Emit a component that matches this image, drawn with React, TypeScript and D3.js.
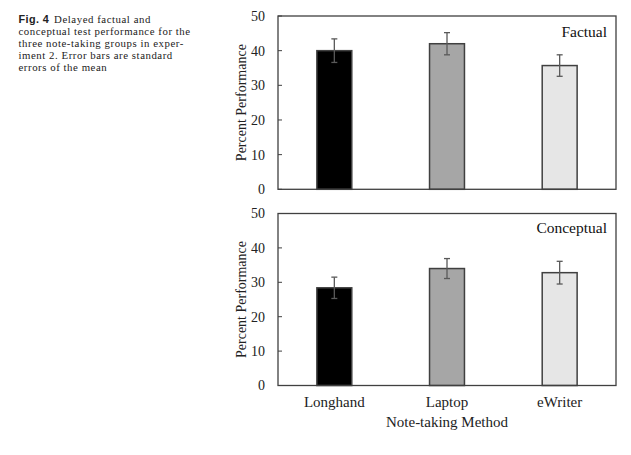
import React from "react";
import * as d3 from "d3";

const categories = ["Longhand", "Laptop", "eWriter"];
const factualMeans = [40.0, 42.0, 35.7];
const factualSE = [3.4, 3.2, 3.1];
const conceptualMeans = [28.4, 34.0, 32.8];
const conceptualSE = [3.1, 2.9, 3.3];
const barColors = ["#000000", "#a6a6a6", "#e6e6e6"];
const yTicks = [0, 10, 20, 30, 40, 50];
const captionLines = [
  "Delayed factual and",
  "conceptual test performance for the",
  "three note-taking groups in exper-",
  "iment 2. Error bars are standard",
  "errors of the mean",
];

const SERIF = "'Liberation Serif', 'Times New Roman', serif";
const LEFT = 278;
const RIGHT = 616;

const x = d3
  .scaleBand<string>()
  .domain(categories)
  .range([LEFT, RIGHT])
  .paddingInner(0.69)
  .paddingOuter(0.345);

function Panel({
  top,
  bottom,
  means,
  se,
  title,
  titleY,
}: {
  top: number;
  bottom: number;
  means: number[];
  se: number[];
  title: string;
  titleY: number;
}) {
  const y = d3.scaleLinear().domain([0, 50]).range([bottom, top]);
  const bw = x.bandwidth();
  return (
    <g>
      {categories.map((c, i) => {
        const x0 = x(c)!;
        const cx = x0 + bw / 2;
        const v = means[i];
        const hi = y(v + se[i]);
        const lo = y(v - se[i]);
        return (
          <g key={c}>
            <rect
              x={x0}
              y={y(v)}
              width={bw}
              height={y(0) - y(v)}
              fill={barColors[i]}
              stroke="#404040"
              strokeWidth={1.5}
            />
            <line x1={cx} x2={cx} y1={hi} y2={lo} stroke="#595959" strokeWidth={1.3} />
            <line x1={cx - 3} x2={cx + 3} y1={hi} y2={hi} stroke="#595959" strokeWidth={1.3} />
            <line x1={cx - 3} x2={cx + 3} y1={lo} y2={lo} stroke="#595959" strokeWidth={1.3} />
          </g>
        );
      })}
      <rect
        x={LEFT}
        y={top}
        width={RIGHT - LEFT}
        height={bottom - top}
        fill="none"
        stroke="#404040"
        strokeWidth={1.3}
      />
      {yTicks.map((t) => (
        <g key={t}>
          <line x1={LEFT} x2={LEFT + 4} y1={y(t)} y2={y(t)} stroke="#404040" strokeWidth={1} />
          <text
            x={265}
            y={y(t)}
            dy="0.35em"
            textAnchor="end"
            fontFamily={SERIF}
            fontSize={14}
            fill="#222"
          >
            {t}
          </text>
        </g>
      ))}
      <text
        transform={`translate(246,${(top + bottom) / 2}) rotate(-90)`}
        textAnchor="middle"
        fontFamily={SERIF}
        fontSize={14}
        fill="#222"
      >
        Percent Performance
      </text>
      <text
        x={607}
        y={titleY}
        textAnchor="end"
        fontFamily={SERIF}
        fontSize={15.5}
        fill="#111"
      >
        {title}
      </text>
    </g>
  );
}

export default function App() {
  return (
    <svg
      width={631}
      height={455}
      style={{ position: "absolute", left: 0, top: 0, display: "block", background: "#fff" }}
    >
      <rect width={631} height={455} fill="#fff" />
      {captionLines.map((l, i) => (
        <text
          key={i}
          x={18.5}
          y={22.5 + i * 12.2}
          fontFamily={SERIF}
          fontSize={10.8}
          letterSpacing={0.55}
          fill="#222"
        >
          {i === 0 ? (
            <>
              <tspan
                fontFamily="'Liberation Sans', Arial, sans-serif"
                fontWeight="bold"
                fontSize={10.8}
                letterSpacing={0.4}
              >
                Fig. 4
              </tspan>
              <tspan dx={5}>{l}</tspan>
            </>
          ) : (
            l
          )}
        </text>
      ))}
      <Panel top={16} bottom={189.3} means={factualMeans} se={factualSE} title="Factual" titleY={37} />
      <Panel
        top={213.5}
        bottom={385.5}
        means={conceptualMeans}
        se={conceptualSE}
        title="Conceptual"
        titleY={233}
      />
      {categories.map((c) => (
        <text
          key={c}
          x={x(c)! + x.bandwidth() / 2}
          y={406.5}
          textAnchor="middle"
          fontFamily={SERIF}
          fontSize={15}
          fill="#222"
        >
          {c}
        </text>
      ))}
      <text x={447} y={427} textAnchor="middle" fontFamily={SERIF} fontSize={15} fill="#222">
        Note-taking Method
      </text>
    </svg>
  );
}
